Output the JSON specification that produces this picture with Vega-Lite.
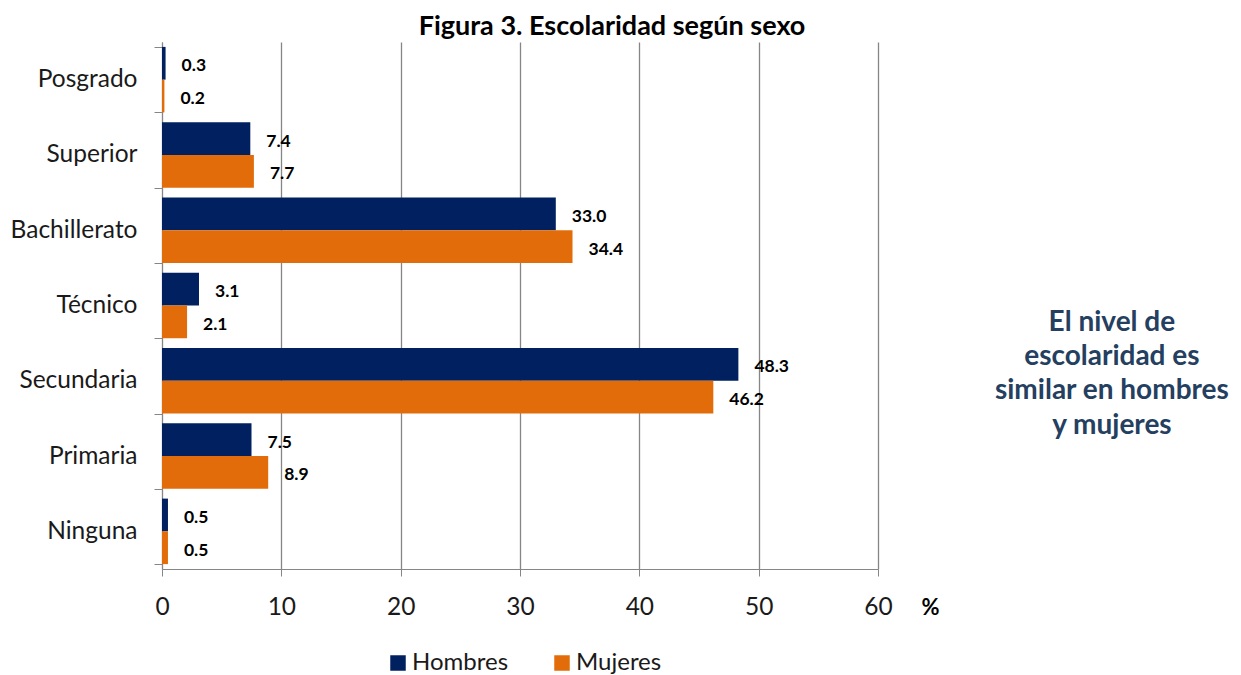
{
  "$schema": "https://vega.github.io/schema/vega-lite/v6.json",
  "autosize": "none",
  "width": 716,
  "height": 527,
  "padding": {"left": 162, "top": 42, "right": 363, "bottom": 106},
  "background": "white",
  "title": {
    "text": "Figura 3. Escolaridad según sexo",
    "font": "Lato",
    "fontSize": 27,
    "fontWeight": "bold",
    "color": "#000000",
    "anchor": "middle",
    "frame": "group",
    "dx": 92,
    "dy": 18,
    "offset": 6
  },
  "config": {
    "view": {"stroke": null},
    "font": "Lato"
  },
  "data": {
    "values": [
      {"nivel": "Posgrado", "sexo": "Hombres", "pct": 0.3},
      {"nivel": "Posgrado", "sexo": "Mujeres", "pct": 0.2},
      {"nivel": "Superior", "sexo": "Hombres", "pct": 7.4},
      {"nivel": "Superior", "sexo": "Mujeres", "pct": 7.7},
      {"nivel": "Bachillerato", "sexo": "Hombres", "pct": 33.0},
      {"nivel": "Bachillerato", "sexo": "Mujeres", "pct": 34.4},
      {"nivel": "Técnico", "sexo": "Hombres", "pct": 3.1},
      {"nivel": "Técnico", "sexo": "Mujeres", "pct": 2.1},
      {"nivel": "Secundaria", "sexo": "Hombres", "pct": 48.3},
      {"nivel": "Secundaria", "sexo": "Mujeres", "pct": 46.2},
      {"nivel": "Primaria", "sexo": "Hombres", "pct": 7.5},
      {"nivel": "Primaria", "sexo": "Mujeres", "pct": 8.9},
      {"nivel": "Ninguna", "sexo": "Hombres", "pct": 0.5},
      {"nivel": "Ninguna", "sexo": "Mujeres", "pct": 0.5}
    ]
  },
  "encoding": {
    "y": {
      "field": "nivel",
      "type": "nominal",
      "sort": ["Posgrado", "Superior", "Bachillerato", "Técnico", "Secundaria", "Primaria", "Ninguna"],
      "scale": {"paddingInner": 0.13, "paddingOuter": 0.065},
      "axis": {
        "title": null,
        "tickBand": "extent",
        "tickSize": 8,
        "tickColor": "#868686",
        "domainColor": "#868686",
        "labelFontSize": 24.5,
        "labelColor": "#1a1a1a",
        "labelPadding": 17,
        "labelFont": "Lato"
      }
    }
  },
  "layer": [
    {
      "mark": {"type": "bar"},
      "encoding": {
        "x": {
          "field": "pct",
          "type": "quantitative",
          "scale": {"domain": [0, 60], "nice": false},
          "axis": {
            "values": [0, 10, 20, 30, 40, 50, 60],
            "grid": true,
            "gridColor": "#868686",
            "gridWidth": 1.3,
            "domainColor": "#868686",
            "tickColor": "#868686",
            "tickSize": 7,
            "labelFlush": false,
            "labelFontSize": 24.5,
            "labelColor": "#1a1a1a",
            "labelPadding": 19,
            "title": "%",
            "titleFontSize": 22,
            "titleFontWeight": "bold",
            "titleColor": "#000000",
            "titleX": 768,
            "titleY": 38,
            "titleAlign": "center",
            "titleBaseline": "middle"
          }
        },
        "yOffset": {"field": "sexo", "type": "nominal", "sort": ["Hombres", "Mujeres"], "scale": {"paddingInner": 0, "paddingOuter": 0}},
        "color": {
          "field": "sexo",
          "type": "nominal",
          "scale": {"domain": ["Hombres", "Mujeres"], "range": ["#002060", "#E36C0A"]},
          "legend": {
            "title": null,
            "orient": "none",
            "direction": "horizontal",
            "legendX": 224,
            "legendY": 609,
            "symbolType": "square",
            "symbolSize": 240,
            "symbolStrokeWidth": 0,
            "labelFontSize": 24,
            "labelColor": "#1a1a1a",
            "labelFont": "Lato",
            "columnPadding": 41,
            "labelOffset": 2
          }
        }
      }
    },
    {
      "mark": {"type": "text", "align": "left", "baseline": "middle", "dx": 16, "dy": 3, "fontSize": 17.5, "fontWeight": "bold", "color": "#000000"},
      "encoding": {
        "x": {"field": "pct", "type": "quantitative"},
        "yOffset": {"field": "sexo", "type": "nominal", "sort": ["Hombres", "Mujeres"]},
        "text": {"field": "pct", "type": "quantitative", "format": ".1f"}
      }
    },
    {
      "data": {"values": [{"nota": ["El nivel de", "escolaridad es", "similar en hombres", "y mujeres"]}]},
      "mark": {"type": "text", "align": "center", "baseline": "middle", "fontSize": 28, "fontWeight": "bold", "color": "#243F60", "lineHeight": 34.3, "dy": -58},
      "encoding": {
        "x": {"datum": 79.6},
        "y": {"datum": "Secundaria"},
        "text": {"field": "nota"}
      }
    }
  ]
}
